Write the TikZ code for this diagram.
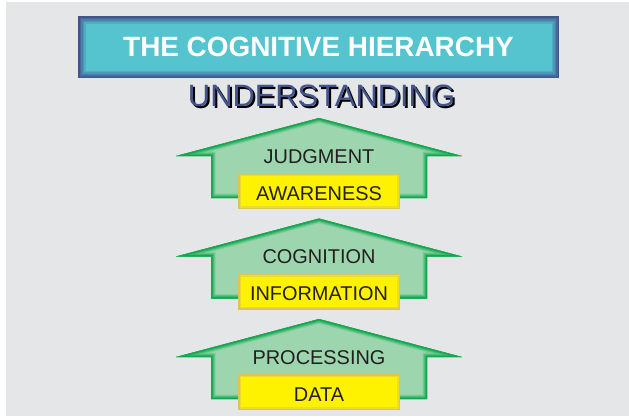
\documentclass[tikz,border=0pt]{standalone}
\usepackage{fontspec}
\setmainfont{Liberation Sans}
\usepackage{tikz}
\usetikzlibrary{positioning}

\definecolor{bggray}{HTML}{E5E6E8}
\definecolor{titlecyan}{HTML}{55C4CF}
\definecolor{titleblue}{HTML}{42548A}
\definecolor{arrowgreen}{HTML}{12A84F}
\definecolor{arrowfill}{HTML}{9DD5AF}
\definecolor{boxyellow}{HTML}{FFF200}
\definecolor{boxrim}{HTML}{D8C65A}
\definecolor{inkgray}{HTML}{231F20}

\begin{document}
\begin{tikzpicture}[x=1bp,y=-1bp,
    level/.style={font=\fontsize{20}{24}\selectfont, text=inkgray, anchor=base, inner sep=0pt},
    bevel/.style={line join=miter}]

   \useasboundingbox (0,0) rectangle (629,416);
   \fill[white] (0,0) rectangle (629,416);
   \fill[bggray] (6,2) rectangle (629,416);

   % title box
   \fill[titleblue] (78,16) rectangle (559,78);
   \fill[titleblue!80!titlecyan] (79.5,17.5) rectangle (557.5,76.5);
   \fill[titleblue!60!titlecyan] (81,19) rectangle (556,75);
   \fill[titleblue!40!titlecyan] (82.5,20.5) rectangle (554.5,73.5);
   \fill[titleblue!20!titlecyan] (84,22) rectangle (553,72);
   \fill[titlecyan] (85.5,23.5) rectangle (551.5,70.5);
   \node[anchor=base, inner sep=0pt, text=white, font=\fontsize{28}{32}\selectfont\bfseries]
      (title) at (318.5,56) {THE COGNITIVE HIERARCHY};

   % shadowed heading
   \node[anchor=base, inner sep=0pt, font=\fontsize{31}{36}\selectfont]
      (understanding) at (321.5,106)
      {\rlap{\kern2bp\raisebox{-2bp}{\color{black}UNDERSTANDING}}\color{titleblue}UNDERSTANDING};

   % arrow 1
   \begin{scope}
   \path[clip] (319,118) -- (462,156) -- (427,156) -- (427,198) -- (211,198) -- (211,156) -- (176,156) -- cycle;
   \fill[arrowfill] (176,118) rectangle (462,198);
   \draw[bevel, line width=9bp, arrowgreen!20!arrowfill] (319,118) -- (462,156) -- (427,156) -- (427,198) -- (211,198) -- (211,156) -- (176,156) -- cycle;
   \draw[bevel, line width=7bp, arrowgreen!45!arrowfill] (319,118) -- (462,156) -- (427,156) -- (427,198) -- (211,198) -- (211,156) -- (176,156) -- cycle;
   \draw[bevel, line width=5bp, arrowgreen!70!arrowfill] (319,118) -- (462,156) -- (427,156) -- (427,198) -- (211,198) -- (211,156) -- (176,156) -- cycle;
   \draw[bevel, line width=3bp, arrowgreen] (319,118) -- (462,156) -- (427,156) -- (427,198) -- (211,198) -- (211,156) -- (176,156) -- cycle;
   \end{scope}
   \fill[boxrim] (238,173) rectangle (400,209);
   \fill[boxrim!50!boxyellow] (239.5,174.5) rectangle (398.5,207.5);
   \fill[boxyellow] (241,176) rectangle (397,206);
   \node[level] (judgment) at (319,163) {JUDGMENT};
   \node[level] (awareness) at (319,200) {AWARENESS};

   % arrow 2
   \begin{scope}
   \path[clip] (319,218.5) -- (462,256.5) -- (427,256.5) -- (427,298.5) -- (211,298.5) -- (211,256.5) -- (176,256.5) -- cycle;
   \fill[arrowfill] (176,218.5) rectangle (462,298.5);
   \draw[bevel, line width=9bp, arrowgreen!20!arrowfill] (319,218.5) -- (462,256.5) -- (427,256.5) -- (427,298.5) -- (211,298.5) -- (211,256.5) -- (176,256.5) -- cycle;
   \draw[bevel, line width=7bp, arrowgreen!45!arrowfill] (319,218.5) -- (462,256.5) -- (427,256.5) -- (427,298.5) -- (211,298.5) -- (211,256.5) -- (176,256.5) -- cycle;
   \draw[bevel, line width=5bp, arrowgreen!70!arrowfill] (319,218.5) -- (462,256.5) -- (427,256.5) -- (427,298.5) -- (211,298.5) -- (211,256.5) -- (176,256.5) -- cycle;
   \draw[bevel, line width=3bp, arrowgreen] (319,218.5) -- (462,256.5) -- (427,256.5) -- (427,298.5) -- (211,298.5) -- (211,256.5) -- (176,256.5) -- cycle;
   \end{scope}
   \fill[boxrim] (238,273.5) rectangle (400,309.5);
   \fill[boxrim!50!boxyellow] (239.5,275) rectangle (398.5,308);
   \fill[boxyellow] (241,276.5) rectangle (397,306.5);
   \node[level] (cognition) at (319,263.5) {COGNITION};
   \node[level] (information) at (319,300.5) {INFORMATION};

   % arrow 3
   \begin{scope}
   \path[clip] (319,319) -- (462,357) -- (427,357) -- (427,399) -- (211,399) -- (211,357) -- (176,357) -- cycle;
   \fill[arrowfill] (176,319) rectangle (462,399);
   \draw[bevel, line width=9bp, arrowgreen!20!arrowfill] (319,319) -- (462,357) -- (427,357) -- (427,399) -- (211,399) -- (211,357) -- (176,357) -- cycle;
   \draw[bevel, line width=7bp, arrowgreen!45!arrowfill] (319,319) -- (462,357) -- (427,357) -- (427,399) -- (211,399) -- (211,357) -- (176,357) -- cycle;
   \draw[bevel, line width=5bp, arrowgreen!70!arrowfill] (319,319) -- (462,357) -- (427,357) -- (427,399) -- (211,399) -- (211,357) -- (176,357) -- cycle;
   \draw[bevel, line width=3bp, arrowgreen] (319,319) -- (462,357) -- (427,357) -- (427,399) -- (211,399) -- (211,357) -- (176,357) -- cycle;
   \end{scope}
   \fill[boxrim] (238,374) rectangle (400,410);
   \fill[boxrim!50!boxyellow] (239.5,375.5) rectangle (398.5,408.5);
   \fill[boxyellow] (241,377) rectangle (397,407);
   \node[level] (processing) at (319,364) {PROCESSING};
   \node[level] (data) at (319,401) {DATA};

\end{tikzpicture}
\end{document}
